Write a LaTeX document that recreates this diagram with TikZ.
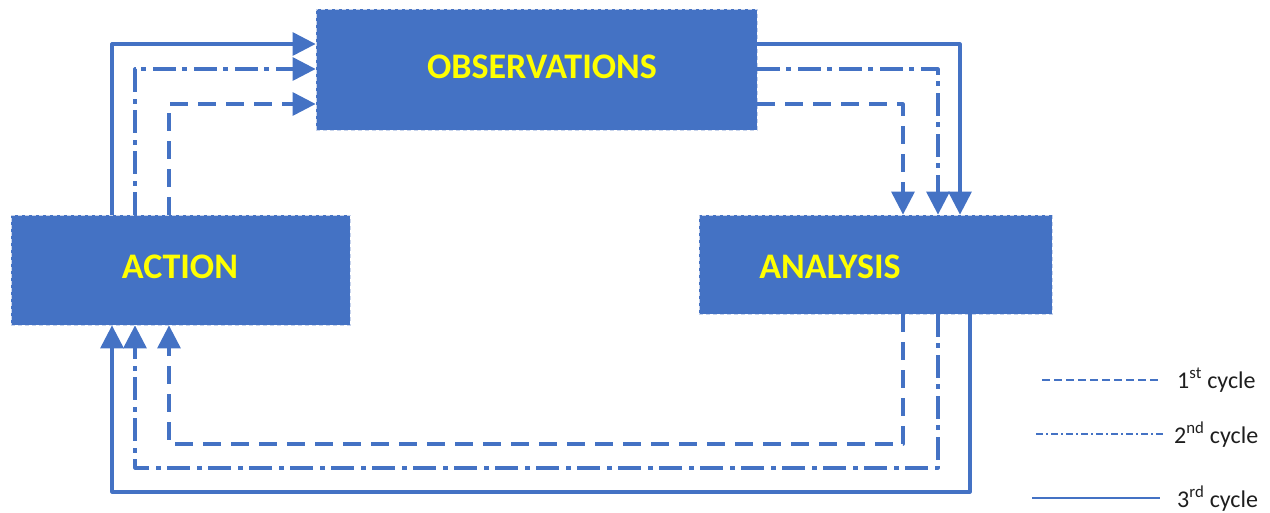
\documentclass[tikz,border=0pt]{standalone}
\usepackage{fontspec}
\setmainfont{Carlito}
\usetikzlibrary{arrows.meta,calc}
\definecolor{boxblue}{RGB}{68,114,196}
\definecolor{lineblue}{RGB}{68,114,196}
\definecolor{txtyellow}{RGB}{255,255,0}
\definecolor{legtxt}{RGB}{30,30,30}
\definecolor{boxedge}{RGB}{200,212,236}
\begin{document}
\begin{tikzpicture}[x=1pt,y=-1pt,
  box/.style={draw=boxedge, dash pattern=on 4pt off 3pt, line width=0.8pt, fill=boxblue, inner sep=0pt},
  boxlabel/.style={text=txtyellow, font=\fontsize{36}{40}\selectfont\bfseries, inner sep=0pt},
  cyc/.style={draw=lineblue, line width=3.2pt, line join=round, -{Triangle[length=23pt,width=23pt]}},
  cone/.style={cyc, dash pattern=on 18pt off 10pt},
  ctwo/.style={cyc, dash pattern=on 23pt off 6pt on 5pt off 7pt},
  cthree/.style={cyc, solid},
  leg/.style={draw=lineblue, line width=1.4pt},
  legtext/.style={font=\fontsize{24}{28}\selectfont, text=legtxt, anchor=base west, inner sep=0pt}]
\useasboundingbox (0,0) rectangle (1270,512);

% boxes
\node[box, minimum width=441pt, minimum height=121pt] (obs) at (536.5,69.5) {};
\node[box, minimum width=339pt, minimum height=110pt] (act) at (180.5,270) {};
\node[box, minimum width=353pt, minimum height=99pt] (ana) at (875.5,264.5) {};

\node[boxlabel] (obst) at (542,67) {OBSERVATIONS};
\node[boxlabel] (actt) at (180,267) {ACTION};
\node[boxlabel] (anat) at (830,267) {ANALYSIS};

% helper coordinates
\coordinate (xl3) at (112,0);
\coordinate (xl2) at (135,0);
\coordinate (xl1) at (169,0);
\coordinate (yt3) at (0,44);
\coordinate (yt2) at (0,69);
\coordinate (yt1) at (0,104);
\coordinate (xr1) at (903,0);
\coordinate (xr2) at (938,0);
\coordinate (xr3) at (960,0);
\coordinate (xb1) at (903,0);
\coordinate (xb2) at (938,0);
\coordinate (xb3) at (970,0);
\coordinate (yb1) at (0,444);
\coordinate (yb2) at (0,468);
\coordinate (yb3) at (0,492);

% action -> observations
\draw[cthree] (act.north -| xl3) -- (xl3 |- yt3) -- (obs.west |- yt3);
\draw[ctwo] (act.north -| xl2) -- (xl2 |- yt2) -- (obs.west |- yt2);
\draw[cone] (act.north -| xl1) -- (xl1 |- yt1) -- (obs.west |- yt1);

% observations -> analysis
\draw[cthree] (obs.east |- yt3) -- (xr3 |- yt3) -- (ana.north -| xr3);
\draw[ctwo] (obs.east |- yt2) -- (xr2 |- yt2) -- (ana.north -| xr2);
\draw[cone] (obs.east |- yt1) -- (xr1 |- yt1) -- (ana.north -| xr1);

% analysis -> action
\draw[cthree] (ana.south -| xb3) -- (xb3 |- yb3) -- (xl3 |- yb3) -- (act.south -| xl3);
\draw[ctwo] (ana.south -| xb2) -- (xb2 |- yb2) -- (xl2 |- yb2) -- (act.south -| xl2);
\draw[cone] (ana.south -| xb1) -- (xb1 |- yb1) -- (xl1 |- yb1) -- (act.south -| xl1);

% legend
\coordinate (la1) at (1042,380);
\coordinate (lb1) at (1160,380);
\coordinate (la2) at (1036,434);
\coordinate (lb2) at (1164,434);
\coordinate (la3) at (1032,498);
\coordinate (lb3) at (1160,498);
\draw[leg, dash pattern=on 8pt off 4pt] (la1) -- (lb1);
\draw[leg, dash pattern=on 7pt off 3pt on 2pt off 3pt] (la2) -- (lb2);
\draw[leg] (la3) -- (lb3);
\node[legtext] (lt1) at (1177,388) {1\textsuperscript{st} cycle};
\node[legtext] (lt2) at (1174,443) {2\textsuperscript{nd} cycle};
\node[legtext] (lt3) at (1177,507) {3\textsuperscript{rd} cycle};
\end{tikzpicture}
\end{document}
